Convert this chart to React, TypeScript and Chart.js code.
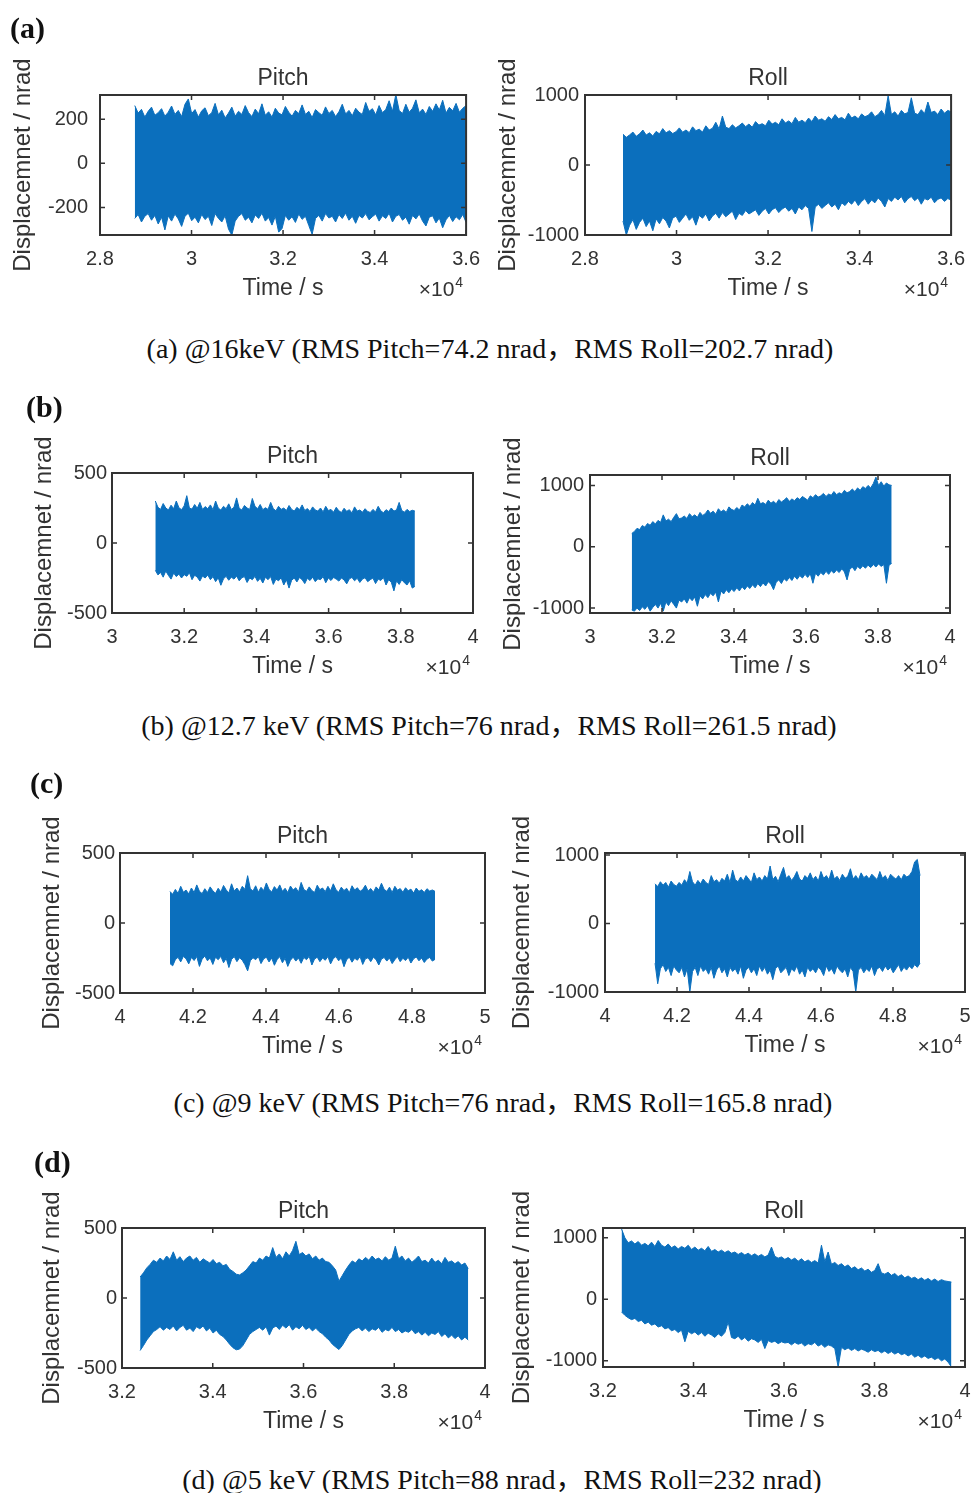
import React, { useEffect, useRef } from "react";
import { Chart, registerables } from "chart.js";
Chart.register(...registerables);

// ---------------- data (time in units of 1e4 s) ----------------
const xTicksA = [2.8, 3, 3.2, 3.4, 3.6];
const xTicksB = [3, 3.2, 3.4, 3.6, 3.8, 4];
const xTicksC = [4, 4.2, 4.4, 4.6, 4.8, 5];
const xTicksD = [3.2, 3.4, 3.6, 3.8, 4];
const yTicksPitchA = [-200, 0, 200];
const yTicksPitch = [-500, 0, 500];
const yTicksRoll = [-1000, 0, 1000];

// sampling window [start, end] of each record
const aPitchTime = [2.876, 3.6];
const aRollTime = [2.883, 3.6];
const bPitchTime = [3.12, 3.839];
const bRollTime = [3.116, 3.838];
const cPitchTime = [4.137, 4.863];
const cRollTime = [4.139, 4.875];
const dPitchTime = [3.24, 3.963];
const dRollTime = [3.241, 3.97];

// upper / lower envelopes of the displacement band (nrad), 100 samples each
const aPitchUpper = [
  262, 228, 245, 210, 236, 255, 218, 230, 248, 214,
  232, 260, 222, 240, 212, 268, 292, 226, 244, 210,
  238, 252, 216, 230, 272, 220, 241, 206, 228, 255,
  214, 236, 222, 262, 230, 212, 246, 225, 270, 218,
  234, 210, 250, 228, 220, 258, 232, 214, 240, 226,
  265, 222, 236, 208, 244, 230, 218, 256, 226, 240,
  212, 234, 268, 224, 240, 216, 250, 232, 222, 276,
  236, 248, 220, 262, 230, 244, 284, 236, 312, 240,
  226, 268, 232, 250, 288, 230, 246, 222, 258, 236,
  270, 242, 286, 228, 254, 238, 272, 232, 250, 262,
];
const aPitchLower = [
  -250, -232, -266, -240, -228, -258, -236, -275, -244, -302,
  -238, -262, -230, -252, -286, -240, -226, -260, -244, -270,
  -232, -255, -240, -282, -228, -250, -266, -238, -298, -326,
  -262, -240, -228, -258, -244, -270, -234, -250, -226, -262,
  -246, -280, -240, -312, -296, -236, -258, -242, -268, -230,
  -254, -240, -282, -322, -250, -236, -262, -228, -248, -240,
  -266, -232, -250, -226, -258, -240, -272, -236, -248, -228,
  -256, -242, -230, -262, -238, -250, -226, -266, -240, -232,
  -258, -244, -276, -236, -252, -230, -262, -284, -244, -238,
  -270, -248, -292, -256, -236, -264, -242, -256, -232, -268,
];
const aRollUpper = [
  440, 395, 430, 470, 410, 445, 500, 428, 460, 415,
  480, 445, 520, 460, 490, 450, 475, 530, 468, 500,
  462, 545, 490, 512, 470, 560, 500, 525, 610, 515,
  700, 540, 520, 575, 530, 560, 600, 548, 585, 540,
  620, 570, 590, 560, 640, 585, 610, 575, 660, 600,
  630, 590, 680, 612, 640, 605, 670, 620, 700, 640,
  660, 625, 690, 650, 720, 660, 680, 645, 740, 672,
  700, 660, 730, 690, 710, 760, 690, 720, 780, 705,
  990, 720, 760, 700, 780, 730, 750, 960, 740, 720,
  790, 735, 900, 750, 770, 720, 800, 740, 780, 760,
];
const aRollLower = [
  -800, -1000, -860, -780, -920, -820, -760, -880, -800, -940,
  -770, -840, -750, -800, -900, -760, -730, -820, -760, -700,
  -790, -740, -860, -720, -760, -700, -800, -730, -690, -760,
  -680, -740, -700, -660, -780, -690, -720, -650, -700, -670,
  -640, -720, -660, -620, -700, -640, -610, -680, -630, -600,
  -660, -620, -700, -600, -640, -580, -620, -950, -600, -560,
  -620, -580, -540, -600, -560, -640, -540, -580, -520, -560,
  -500, -580, -520, -480, -560, -500, -540, -470, -520, -600,
  -480, -520, -460, -500, -450, -540, -480, -450, -510, -470,
  -560, -480, -500, -460, -540, -490, -470, -520, -480, -500,
];
const bPitchUpper = [
  300, 255, 240, 282, 250, 236, 270, 245, 300, 252,
  238, 265, 338, 250, 242, 275, 248, 290, 240, 260,
  245, 272, 238, 300, 250, 235, 262, 245, 280, 240,
  255, 322, 248, 236, 268, 250, 240, 318, 262, 245,
  275, 238, 252, 240, 290, 245, 230, 262, 240, 250,
  232, 268, 240, 228, 255, 238, 272, 232, 246, 225,
  258, 236, 228, 250, 222, 262, 232, 240, 220, 255,
  230, 218, 248, 226, 238, 215, 258, 228, 236, 220,
  245, 225, 218, 240, 222, 262, 230, 216, 238, 225,
  250, 228, 236, 290, 232, 220, 240, 225, 234, 228,
];
const bPitchLower = [
  -195, -228, -210, -244, -200, -232, -258, -215, -240, -222,
  -250, -226, -238, -212, -262, -230, -244, -272, -236, -250,
  -228, -262, -240, -276, -248, -302, -256, -238, -266, -244,
  -258, -236, -270, -248, -240, -282, -250, -262, -238, -274,
  -252, -286, -244, -262, -240, -296, -258, -270, -248, -300,
  -262, -322, -266, -250, -278, -246, -262, -290, -252, -268,
  -244, -276, -256, -262, -240, -284, -250, -268, -246, -258,
  -272, -250, -264, -292, -256, -246, -270, -252, -282, -258,
  -248, -276, -262, -250, -290, -258, -268, -246, -300, -262,
  -280, -342, -270, -296, -262, -284, -300, -270, -322, -310,
];
const bRollUpper = [
  216, 250, 300, 280, 345, 320, 380, 350, 410, 372,
  430, 398, 520, 420, 450, 410, 480, 540, 455, 470,
  500, 462, 540, 490, 520, 480, 560, 510, 540, 600,
  545, 580, 530, 620, 570, 600, 560, 650, 610, 590,
  640, 600, 680, 650, 700, 660, 720, 680, 790, 700,
  720, 690, 760, 710, 740, 700, 770, 730, 760, 800,
  740, 780, 750, 800, 770, 820, 790, 760, 830, 800,
  850, 810, 830, 870, 820, 860, 840, 900, 850, 880,
  860, 920, 880, 900, 940, 900, 960, 920, 980, 950,
  1000, 960, 1030, 1135, 1000, 1060, 990, 1040, 1010, 1000,
];
const bRollLower = [
  -1030, -1050, -1000, -1040, -980, -1020, -960, -1050, -990, -940,
  -1000, -920, -1050, -900, -960, -880, -940, -1000, -870, -900,
  -850, -920, -830, -880, -820, -970, -800, -850, -780, -830,
  -760, -800, -740, -900, -720, -770, -700, -750, -690, -730,
  -670, -720, -650, -700, -640, -680, -620, -670, -600, -650,
  -590, -640, -570, -610, -700, -580, -540, -600, -520, -560,
  -500, -550, -480, -530, -470, -510, -450, -500, -440, -595,
  -430, -480, -420, -460, -400, -450, -390, -430, -380, -420,
  -360, -410, -540, -370, -330, -390, -320, -360, -310, -350,
  -300, -340, -290, -330, -280, -320, -290, -595, -300, -270,
];
const cPitchUpper = [
  225, 205, 240, 212, 262, 220, 235, 208, 250, 218,
  272, 226, 210, 245, 218, 258, 230, 212, 248, 222,
  268, 236, 215, 280, 228, 250, 222, 262, 240, 338,
  245, 228, 266, 220, 255, 232, 286, 240, 222, 260,
  235, 272, 226, 248, 218, 264, 236, 252, 220, 290,
  240, 226, 258, 232, 218, 270, 238, 250, 224, 262,
  230, 280, 238, 220, 256, 232, 248, 216, 266, 236,
  252, 226, 240, 270, 228, 246, 220, 258, 236, 284,
  240, 226, 256, 218, 262, 234, 246, 220, 252, 230,
  242, 214, 250, 226, 238, 218, 245, 228, 236, 226,
];
const cPitchLower = [
  -290, -306, -262, -245, -278, -238, -256, -292, -246, -268,
  -240, -310, -258, -236, -270, -250, -296, -244, -262, -238,
  -284, -252, -318, -260, -240, -276, -248, -266, -298, -342,
  -270, -248, -262, -240, -290, -256, -244, -278, -250, -302,
  -262, -240, -284, -252, -310, -266, -244, -272, -250, -288,
  -246, -262, -238, -300, -258, -244, -276, -250, -266, -240,
  -292, -254, -240, -270, -250, -312, -262, -244, -280, -252,
  -266, -240, -296, -256, -248, -276, -244, -262, -300, -258,
  -246, -272, -250, -290, -262, -240, -276, -252, -268, -244,
  -286, -256, -242, -270, -250, -282, -258, -246, -272, -260,
];
const cRollUpper = [
  580, 540, 610, 560, 600, 530, 620, 570, 545, 600,
  560, 640, 590, 760, 610, 560, 630, 580, 650, 600,
  570, 700, 610, 640, 590, 660, 620, 720, 600, 780,
  640, 610, 680, 620, 700, 650, 600, 740, 640, 680,
  620, 700, 650, 840, 640, 690, 610, 720, 820, 660,
  700, 630, 680, 760, 650, 620, 700, 660, 740, 640,
  690, 620, 760, 660, 700, 640, 780, 650, 690, 630,
  720, 660, 690, 800, 650, 700, 640, 740, 670, 700,
  650, 720, 680, 640, 760, 660, 700, 630, 720, 680,
  650, 700, 640, 720, 680, 700, 760, 900, 936, 700,
];
const cRollLower = [
  -580, -880, -660, -600, -700, -640, -760, -620, -680, -720,
  -640, -780, -660, -1000, -700, -640, -760, -620, -700, -660,
  -740, -640, -800, -680, -620, -720, -660, -780, -640, -700,
  -660, -740, -620, -800, -680, -640, -720, -660, -760, -620,
  -700, -640, -740, -680, -820, -660, -620, -720, -680, -640,
  -760, -660, -700, -620, -740, -680, -780, -640, -700, -660,
  -720, -640, -680, -760, -620, -700, -660, -740, -620, -680,
  -720, -660, -780, -640, -700, -1000, -680, -640, -720, -660,
  -700, -620, -760, -660, -640, -700, -620, -680, -640, -720,
  -660, -600, -700, -640, -680, -620, -660, -600, -640, -580,
];
const dPitchUpper = [
  150, 180, 215, 240, 270, 255, 285, 265, 300, 275,
  330, 270, 295, 260, 285, 300, 270, 290, 255, 280,
  265, 250, 275, 245, 255, 230, 240, 205, 190, 170,
  165, 180, 200, 230, 260, 250, 285, 270, 300, 285,
  360, 290, 315, 280, 330, 300, 340, 405, 310, 325,
  300, 315, 280, 300, 270, 285, 260, 255, 230, 200,
  120, 160, 200, 235, 265, 250, 280, 265, 290, 270,
  300, 275, 285, 265, 295, 270, 285, 370, 280, 300,
  265, 285, 255, 275, 300, 260, 270, 250, 285, 255,
  270, 245, 290, 255, 265, 245, 260, 235, 250, 210,
];
const dPitchLower = [
  -375, -340, -300, -270, -240, -225, -205, -230, -210, -225,
  -200, -235, -210, -195, -230, -215, -240, -205, -220, -200,
  -235, -215, -250, -230, -260, -275, -300, -330, -355, -370,
  -365, -340, -300, -260, -240, -225, -210, -230, -205, -265,
  -215, -200, -225, -195, -215, -190, -230, -205, -220, -195,
  -225, -210, -235, -215, -240, -255, -280, -300, -330, -350,
  -368, -340, -300, -260, -235, -220, -210, -235, -215, -240,
  -220, -230, -210, -245, -225, -235, -210, -240, -225, -250,
  -235, -245, -225, -255, -240, -265, -245, -270, -250, -260,
  -240, -275, -255, -285, -265, -290, -270, -300, -280, -300,
];
const dRollUpper = [
  1146, 1000, 920, 950, 900, 940, 880, 910, 870, 930,
  860, 957, 880, 850, 900, 840, 870, 820, 860, 830,
  880, 810, 850, 800, 830, 790, 860, 780, 810, 770,
  800, 760, 790, 750, 770, 730, 760, 720, 750, 710,
  740, 700, 730, 690, 720, 850, 700, 670, 690, 650,
  680, 640, 670, 620, 660, 610, 640, 600, 630, 590,
  880, 610, 770, 570, 600, 550, 580, 530, 560, 500,
  530, 480, 510, 460, 490, 440, 470, 580, 430, 410,
  440, 390, 420, 370, 400, 350, 380, 340, 360, 320,
  350, 310, 340, 300, 330, 290, 320, 300, 290, 280,
];
const dRollLower = [
  -205, -260, -300, -330, -310, -360, -340, -400, -370, -420,
  -400, -450, -430, -480, -460, -510, -490, -540, -500, -690,
  -520, -560, -530, -580, -540, -600, -550, -580, -620, -560,
  -600, -540, -370, -620, -640, -600, -660, -620, -680, -640,
  -660, -700, -650, -800, -670, -700, -680, -720, -690, -710,
  -700, -740, -700, -730, -710, -760, -720, -740, -700, -760,
  -730, -780, -740, -760, -800, -1100, -780, -820, -790, -830,
  -800, -840, -810, -830, -860, -820, -850, -830, -870, -840,
  -880, -850, -890, -860, -900, -880, -920, -890, -940, -910,
  -950, -920, -960, -940, -980, -950, -1000, -970, -1020, -1100,
];

const captions = [
  "(a) @16keV (RMS Pitch=74.2 nrad，RMS Roll=202.7 nrad)",
  "(b) @12.7 keV (RMS Pitch=76 nrad，RMS Roll=261.5 nrad)",
  "(c) @9 keV (RMS Pitch=76 nrad，RMS Roll=165.8 nrad)",
  "(d) @5 keV (RMS Pitch=88 nrad，RMS Roll=232 nrad)",
];
const panelLabels = ["(a)", "(b)", "(c)", "(d)"];

// ---------------- style / layout ----------------
const BLUE = "#0b6fbd";
const TXT = "#333333";
const SANS = '"Liberation Sans", Arial, Helvetica, sans-serif';
const SERIF = '"Liberation Serif", "Times New Roman", "Noto Sans CJK SC", serif';
const Y_W = 98;
const TOP_H = 30;
const TOP_EXTRA = 30;
const X_H = 67;
const BOTTOM_EXTRA = 20;
const PAD_R = 22;
const Y_TITLE_SIZE = 24;

type Panel = {
  title: string;
  upper: number[];
  lower: number[];
  time: number[];
  xMin: number; xMax: number; xTicks: number[];
  yMin: number; yMax: number; yTicks: number[];
  box: { L: number; R: number; T: number; B: number };
  yTitleOff: number;
  tickPad: number;
};

const panels: Panel[] = [
  { title: "Pitch", upper: aPitchUpper, lower: aPitchLower, time: aPitchTime, xMin: 2.8, xMax: 3.6, xTicks: xTicksA, yMin: -325, yMax: 310, yTicks: yTicksPitchA, box: { L: 100, R: 470, T: 95, B: 235 }, yTitleOff: 77, tickPad: 12 },
  { title: "Roll", upper: aRollUpper, lower: aRollLower, time: aRollTime, xMin: 2.8, xMax: 3.6, xTicks: xTicksA, yMin: -1000, yMax: 1000, yTicks: yTicksRoll, box: { L: 585, R: 955, T: 95, B: 235 }, yTitleOff: 77, tickPad: 6 },
  { title: "Pitch", upper: bPitchUpper, lower: bPitchLower, time: bPitchTime, xMin: 3, xMax: 4, xTicks: xTicksB, yMin: -500, yMax: 500, yTicks: yTicksPitch, box: { L: 112, R: 473, T: 473, B: 613 }, yTitleOff: 68, tickPad: 5 },
  { title: "Roll", upper: bRollUpper, lower: bRollLower, time: bRollTime, xMin: 3, xMax: 4, xTicks: xTicksB, yMin: -1080, yMax: 1170, yTicks: yTicksRoll, box: { L: 590, R: 950, T: 475, B: 613 }, yTitleOff: 77, tickPad: 6 },
  { title: "Pitch", upper: cPitchUpper, lower: cPitchLower, time: cPitchTime, xMin: 4, xMax: 5, xTicks: xTicksC, yMin: -500, yMax: 500, yTicks: yTicksPitch, box: { L: 120, R: 485, T: 853, B: 993 }, yTitleOff: 68, tickPad: 5 },
  { title: "Roll", upper: cRollUpper, lower: cRollLower, time: cRollTime, xMin: 4, xMax: 5, xTicks: xTicksC, yMin: -1000, yMax: 1030, yTicks: yTicksRoll, box: { L: 605, R: 965, T: 853, B: 992 }, yTitleOff: 83, tickPad: 6 },
  { title: "Pitch", upper: dPitchUpper, lower: dPitchLower, time: dPitchTime, xMin: 3.2, xMax: 4, xTicks: xTicksD, yMin: -500, yMax: 500, yTicks: yTicksPitch, box: { L: 122, R: 485, T: 1228, B: 1368 }, yTitleOff: 70, tickPad: 5 },
  { title: "Roll", upper: dRollUpper, lower: dRollLower, time: dRollTime, xMin: 3.2, xMax: 4, xTicks: xTicksD, yMin: -1100, yMax: 1160, yTicks: yTicksRoll, box: { L: 603, R: 965, T: 1228, B: 1367 }, yTitleOff: 81, tickPad: 6 },
];

const captionPos = [
  { cx: 490, cy: 349 },
  { cx: 489, cy: 726 },
  { cx: 503, cy: 1103 },
  { cx: 502, cy: 1480 },
];
const labelPos = [
  { x: 10, cy: 28 },
  { x: 26, cy: 407 },
  { x: 30, cy: 783 },
  { x: 34, cy: 1162 },
];

// MATLAB-like box with inward ticks on all four sides, and the x10^4 multiplier
const matlabBox = {
  id: "matlabBox",
  afterDatasetsDraw(chart: any) {
    const { ctx, chartArea: a, scales } = chart;
    const x = scales.x;
    const y = scales.y;
    const tl = 5;
    ctx.save();
    ctx.strokeStyle = TXT;
    ctx.lineWidth = 1.5;
    ctx.beginPath();
    x.ticks.forEach((t: any) => {
      const px = x.getPixelForValue(t.value);
      ctx.moveTo(px, a.bottom);
      ctx.lineTo(px, a.bottom - tl);
      ctx.moveTo(px, a.top);
      ctx.lineTo(px, a.top + tl);
    });
    y.ticks.forEach((t: any) => {
      const py = y.getPixelForValue(t.value);
      ctx.moveTo(a.left, py);
      ctx.lineTo(a.left + tl, py);
      ctx.moveTo(a.right, py);
      ctx.lineTo(a.right - tl, py);
    });
    ctx.stroke();
    ctx.lineWidth = 2;
    ctx.strokeRect(a.left, a.top, a.right - a.left, a.bottom - a.top);
    ctx.restore();
  },
  afterDraw(chart: any) {
    const { ctx, chartArea: a } = chart;
    ctx.save();
    ctx.fillStyle = TXT;
    ctx.textAlign = "right";
    ctx.textBaseline = "alphabetic";
    ctx.font = `14px ${SANS}`;
    const supW = ctx.measureText("4").width;
    const xr = a.right - 3;
    const base = a.bottom + 61;
    ctx.fillText("4", xr, base - 9);
    ctx.font = `21px ${SANS}`;
    ctx.fillText("×10", xr - supW - 1, base);
    ctx.restore();
  },
};

function Subplot({ p }: { p: Panel }) {
  const ref = useRef<HTMLCanvasElement | null>(null);
  const w = p.box.R - p.box.L + Y_W + PAD_R;
  const h = p.box.B - p.box.T + TOP_EXTRA + TOP_H + X_H + BOTTOM_EXTRA;
  useEffect(() => {
    const n = p.upper.length;
    const step = (p.time[1] - p.time[0]) / (n - 1);
    const up = p.upper.map((v, i) => ({ x: p.time[0] + i * step, y: v }));
    const lo = p.lower.map((v, i) => ({ x: p.time[0] + i * step, y: v }));
    const chart = new Chart(ref.current as HTMLCanvasElement, {
      type: "line",
      data: {
        datasets: [
          { data: up, borderColor: BLUE, borderWidth: 1, pointRadius: 0, fill: false, tension: 0 },
          { data: lo, borderColor: BLUE, borderWidth: 1, pointRadius: 0, fill: "-1", backgroundColor: BLUE, tension: 0 },
        ],
      },
      options: {
        responsive: false,
        animation: false,
        devicePixelRatio: 1,
        layout: { padding: { left: 0, right: PAD_R, top: TOP_EXTRA, bottom: BOTTOM_EXTRA } },
        plugins: {
          legend: { display: false },
          tooltip: { enabled: false },
          title: {
            display: true,
            fullSize: false,
            text: p.title,
            color: TXT,
            font: { family: SANS, size: 23, weight: "normal" },
            padding: { top: 0, bottom: 2.4 },
          },
        },
        scales: {
          x: {
            type: "linear",
            min: p.xMin,
            max: p.xMax,
            afterBuildTicks: (s: any) => {
              s.ticks = p.xTicks.map((v) => ({ value: v }));
            },
            afterFit: (s: any) => {
              s.height = X_H;
            },
            ticks: {
              callback: (v: any) => String(Number(Number(v).toFixed(1))),
              color: TXT,
              font: { family: SANS, size: 20 },
              padding: 12,
              maxRotation: 0,
              autoSkip: false,
            },
            grid: { display: false, drawTicks: false },
            border: { display: false },
            title: {
              display: true,
              text: "Time / s",
              color: TXT,
              font: { family: SANS, size: 23 },
              padding: { top: 0, bottom: 0 },
            },
          },
          y: {
            type: "linear",
            min: p.yMin,
            max: p.yMax,
            afterBuildTicks: (s: any) => {
              s.ticks = p.yTicks.map((v) => ({ value: v }));
            },
            afterFit: (s: any) => {
              s.width = Y_W;
            },
            ticks: {
              callback: (v: any) => String(v),
              color: TXT,
              font: { family: SANS, size: 20 },
              padding: p.tickPad,
            },
            grid: { display: false, drawTicks: false },
            border: { display: false },
            title: {
              display: true,
              text: "Displacemnet / nrad",
              color: TXT,
              font: { family: SANS, size: Y_TITLE_SIZE },
              padding: { top: Math.max(0, Y_W - p.yTitleOff - Y_TITLE_SIZE * 0.6), bottom: 0 },
            },
          },
        },
      } as any,
      plugins: [matlabBox],
    });
    return () => chart.destroy();
  }, []);
  return (
    <canvas
      ref={ref}
      width={w}
      height={h}
      style={{ position: "absolute", left: p.box.L - Y_W, top: p.box.T - TOP_H - TOP_EXTRA, width: w, height: h }}
    />
  );
}

export default function App() {
  return (
    <div
      style={{
        position: "absolute",
        left: 0,
        top: 0,
        width: 975,
        height: 1493,
        overflow: "hidden",
        background: "#ffffff",
      }}
    >
      {panels.map((p, i) => (
        <Subplot key={i} p={p} />
      ))}
      {panelLabels.map((t, i) => (
        <div
          key={"l" + i}
          style={{
            position: "absolute",
            left: labelPos[i].x,
            top: labelPos[i].cy - 17,
            height: 34,
            lineHeight: "34px",
            fontFamily: SERIF,
            fontWeight: "bold",
            fontSize: 30,
            color: "#111",
          }}
        >
          {t}
        </div>
      ))}
      {captions.map((t, i) => (
        <div
          key={"c" + i}
          style={{
            position: "absolute",
            left: captionPos[i].cx - 450,
            width: 900,
            top: captionPos[i].cy - 17,
            height: 34,
            lineHeight: "34px",
            textAlign: "center",
            fontFamily: SERIF,
            fontSize: 28,
            color: "#111",
            whiteSpace: "nowrap",
          }}
        >
          {t}
        </div>
      ))}
    </div>
  );
}
